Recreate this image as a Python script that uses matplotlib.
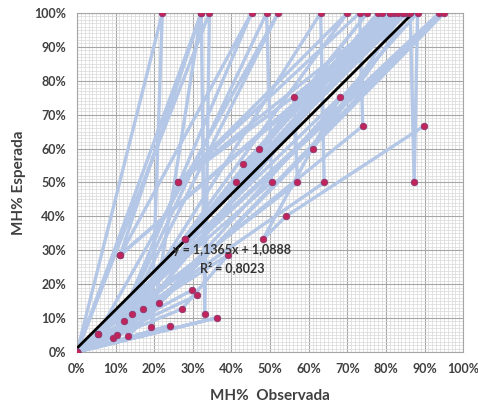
import numpy as np
import matplotlib
matplotlib.use("Agg")
from matplotlib import pyplot as plt
from matplotlib.ticker import MultipleLocator, FuncFormatter

plt.rcParams['font.family'] = ['Lato', 'DejaVu Sans']

# observed / expected MH% in data order (Excel series, points joined by lines)
obs = [0.0, 22.1, 19.3, 32.2, 0.0, 34.3, 33.1, 32.2, 11.2, 45.2, 9.3, 49.1,
       50.4, 5.4, 52.1, 10.3, 63.1, 64.0, 12.2, 70.0, 26.1, 73.2, 74.0,
       14.2, 75.2, 28.1, 78.0, 47.2, 79.1, 17.2, 81.0, 43.1, 82.2, 56.1,
       57.1, 0.0, 83.2, 11.2, 84.3, 41.1, 85.4, 26.1, 81.0, 28.1, 84.3,
       61.0, 86.3, 87.3, 88.2, 13.3, 93.8, 5.4, 95.1, 21.3, 0.0, 24.0,
       0.0, 36.3, 0.0, 31.2, 29.9, 0.0, 27.2, 39.1, 0.0, 68.1, 48.2, 54.1,
       89.9]
esp = [0.0, 100, 7.4, 100, 0.0, 100, 11.2, 100, 28.6, 100, 4.1, 100,
       50.0, 5.3, 100, 5.0, 100, 50.0, 9.1, 100, 50.0, 100, 66.7,
       11.2, 100, 33.3, 100, 60.0, 100, 12.7, 100, 55.5, 100, 75.2,
       50.0, 0.0, 100, 28.6, 100, 50.0, 100, 50.0, 100, 33.3, 100,
       60.0, 100, 50.0, 100, 4.7, 100, 5.3, 100, 14.3, 0.0, 7.7,
       0.0, 10.1, 0.0, 16.8, 18.3, 0.0, 12.7, 28.6, 0.0, 75.2, 33.3, 40.0,
       66.7]

slope, intercept = 1.1365, 1.0888
eq_text = "y = 1,1365x + 1,0888"
r2_text = "R² = 0,8023"

fig = plt.figure(figsize=(4.78, 4.05), dpi=100)
ax = fig.add_axes([0.161, 0.131, 0.808, 0.837])

ax.plot(obs, esp, color='#b4c7e7', lw=2.4, zorder=2, solid_joinstyle='round')
ax.scatter(obs, esp, s=22, c='#c0245a', edgecolors='#8a3a72', linewidths=0.6, zorder=4)

x_end = (100 - intercept) / slope
xt = np.array([0, x_end])
ax.plot(xt, slope * xt + intercept, color='black', lw=2.0, zorder=3)

ax.text(40.2, 30.0, eq_text, ha='center', va='center', fontsize=9,
        fontweight='bold', color='#333333', zorder=5)
ax.text(40.2, 25.0, r2_text, ha='center', va='center', fontsize=9,
        fontweight='bold', color='#333333', zorder=5)

ax.set_xlim(0, 100)
ax.set_ylim(0, 100)
ax.xaxis.set_major_locator(MultipleLocator(10))
ax.yaxis.set_major_locator(MultipleLocator(10))
ax.xaxis.set_minor_locator(MultipleLocator(1))
ax.yaxis.set_minor_locator(MultipleLocator(1))
pct = FuncFormatter(lambda v, p: '%d%%' % round(v))
ax.xaxis.set_major_formatter(pct)
ax.yaxis.set_major_formatter(pct)
ax.grid(which='major', color='#a6a6a6', lw=0.8, zorder=0)
ax.grid(which='minor', color='#d9d9d9', lw=0.5, zorder=0)
ax.set_axisbelow(True)
ax.tick_params(which='both', length=0, labelsize=9, colors='#404040', pad=8)
for lab in ax.get_xticklabels() + ax.get_yticklabels():
    lab.set_fontweight('bold')
for sp in ax.spines.values():
    sp.set_color('#a6a6a6')

ax.set_xlabel('MH%  Observada', fontsize=11, fontweight='bold', color='#404040', labelpad=10)
ax.set_ylabel('MH% Esperada', fontsize=11, fontweight='bold', color='#404040', labelpad=6)

fig.savefig('out.png', dpi=100)
